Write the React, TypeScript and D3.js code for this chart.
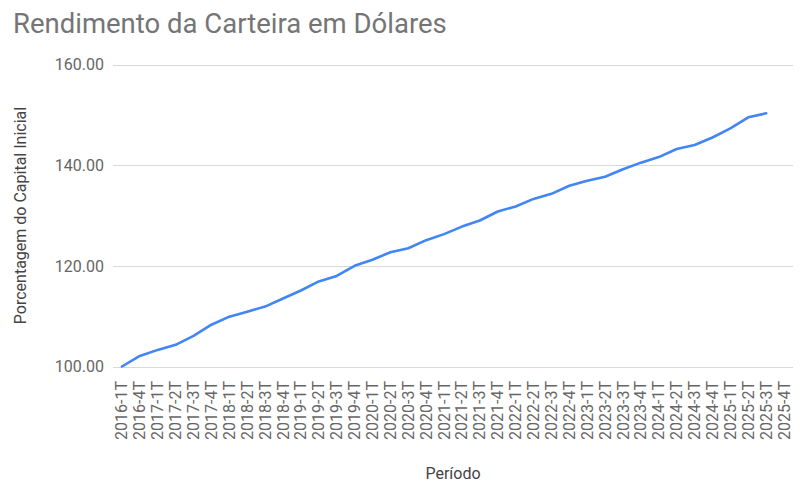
import React from "react";
import * as d3 from "d3";

const categories: string[] = [
  "2016-1T", "2016-4T",
  "2017-1T", "2017-2T", "2017-3T", "2017-4T",
  "2018-1T", "2018-2T", "2018-3T", "2018-4T",
  "2019-1T", "2019-2T", "2019-3T", "2019-4T",
  "2020-1T", "2020-2T", "2020-3T", "2020-4T",
  "2021-1T", "2021-2T", "2021-3T", "2021-4T",
  "2022-1T", "2022-2T", "2022-3T", "2022-4T",
  "2023-1T", "2023-2T", "2023-3T", "2023-4T",
  "2024-1T", "2024-2T", "2024-3T", "2024-4T",
  "2025-1T", "2025-2T", "2025-3T", "2025-4T",
];

const values: (number | null)[] = [
  100.0, 102.1,
  103.3, 104.3, 106.1, 108.3,
  109.9, 110.9, 111.9, 113.5,
  115.1, 116.9, 118.0, 120.0,
  121.2, 122.7, 123.5, 125.1,
  126.3, 127.8, 129.0, 130.8,
  131.8, 133.3, 134.3, 135.9,
  136.9, 137.7, 139.2, 140.5,
  141.6, 143.2, 144.0, 145.5,
  147.3, 149.5, 150.3, null,
];

const yTicks: number[] = [100, 120, 140, 160];

const title = "Rendimento da Carteira em Dólares";
const xTitle = "Período";
const yTitle = "Porcentagem do Capital Inicial";

const W = 803;
const H = 490;
const plot = { left: 113, right: 793, top: 64.5, bottom: 366.5 };
const FONT = "Roboto, 'Noto Sans', Arial, sans-serif";

export default function App() {
  const x = d3
    .scaleBand<string>()
    .domain(categories)
    .range([plot.left, plot.right])
    .paddingInner(0)
    .paddingOuter(0);
  const y = d3.scaleLinear().domain([100, 160]).range([plot.bottom, plot.top]);

  const pts = categories.map((c, i) => ({ c, v: values[i] }));
  const line = d3
    .line<{ c: string; v: number | null }>()
    .defined((d) => d.v !== null)
    .x((d) => (x(d.c) as number) + x.bandwidth() / 2)
    .y((d) => y(d.v as number));

  return (
    <svg
      width={W}
      height={H}
      style={{ position: "fixed", left: 0, top: 0, background: "#fff" }}
      fontFamily={FONT}
    >
      <rect x={0} y={0} width={W} height={H} fill="#fff" />
      <text x={13} y={32.5} fontSize={27.5} fill="#757575">
        {title}
      </text>
      {yTicks.map((t) => (
        <g key={t}>
          <line
            x1={plot.left}
            x2={plot.right}
            y1={Math.round(y(t)) + 0.5}
            y2={Math.round(y(t)) + 0.5}
            stroke="#d9d9d9"
            strokeWidth={1}
          />
          <text
            x={104}
            y={y(t)}
            dy="0.36em"
            textAnchor="end"
            fontSize={16}
            fill="#666"
          >
            {t.toFixed(2)}
          </text>
        </g>
      ))}
      {categories.map((c) => {
        const cx = (x(c) as number) + x.bandwidth() / 2;
        return (
          <text
            key={c}
            transform={`translate(${cx + 5.5},${381}) rotate(-90)`}
            textAnchor="end"
            fontSize={16}
            fill="#666"
          >
            {c}
          </text>
        );
      })}
      <path
        d={line(pts) || ""}
        fill="none"
        stroke="#4285f4"
        strokeWidth={2.6}
        strokeLinejoin="round"
        strokeLinecap="round"
      />
      <text
        x={(plot.left + plot.right) / 2}
        y={479}
        textAnchor="middle"
        fontSize={16}
        fill="#444"
      >
        {xTitle}
      </text>
      <text
        transform={`translate(${26},${(plot.top + plot.bottom) / 2}) rotate(-90)`}
        textAnchor="middle"
        fontSize={16}
        fill="#444"
      >
        {yTitle}
      </text>
    </svg>
  );
}
